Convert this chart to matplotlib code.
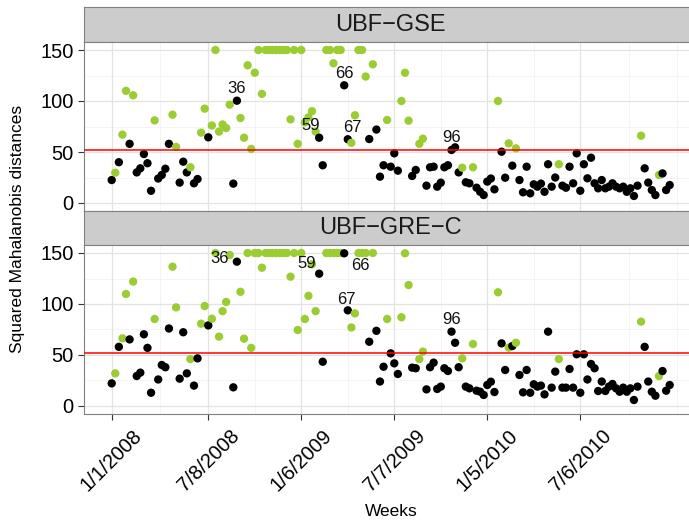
import numpy as np
import matplotlib
matplotlib.use("Agg")
import matplotlib.pyplot as plt

plt.rcParams["font.family"] = ["Liberation Sans", "DejaVu Sans"]

# weekly squared Mahalanobis distances, week 1 = 1/1/2008 (capped at 150)
gse = [22.5, 29.7, 40, 67, 110, 58, 105.6, 30, 34, 48,
       39, 12, 81, 24, 27.5, 33.6, 58, 86.6, 55, 20,
       40.5, 30, 35, 19.3, 23.5, 69, 92.5, 64.4, 76, 150,
       70, 77, 73.5, 96.4, 19, 100.3, 83.3, 64, 135, 53,
       127.7, 150, 107, 150, 150, 150, 150, 150, 150, 150,
       82, 150, 58, 150, 79, 84, 90, 70, 64, 37,
       150, 150, 137, 150, 150, 115.4, 62.5, 59, 86, 150,
       150, 124, 62.7, 136, 72, 25.8, 37, 81.4, 35.6, 48.7,
       31.7, 100, 127.7, 80.7, 26.5, 32.4, 58, 63, 17, 35,
       35.6, 16, 19.9, 35, 37, 52, 54.6, 30, 34.6, 20.3,
       19.3, 35, 15, 11, 7.8, 21, 24, 13.4, 100, 50.3,
       24.8, 58.5, 36.6, 53.6, 22.5, 10.5, 35.6, 9.5, 18.3, 16,
       19, 11, 38, 16, 25, 38, 17, 15, 35.6, 19.3,
       48.7, 12, 38, 24.2, 44.4, 19.3, 14.4, 22.5, 14.4, 16,
       19.3, 16, 14.4, 16, 11, 14.4, 6.9, 17, 66, 34,
       20, 12.7, 7.8, 27.5, 29, 12.7, 17.6]

gre_c = [22.2, 32, 58, 66.3, 109.8, 65.3, 122, 29.4, 32.7, 70.3,
         57, 13, 85.3, 26, 40.2, 38, 76, 136.6, 96.7, 26.8,
         72.3, 32, 46, 20, 46.7, 80.7, 98, 79, 85.6, 150,
         68, 93, 102, 148, 18.3, 141.5, 112, 66, 150, 57,
         150, 150, 135.6, 150, 150, 150, 150, 150, 150, 150,
         126.8, 150, 74.5, 150, 85.3, 108, 139, 93, 129.7, 43.4,
         150, 150, 150, 150, 150, 149.7, 93.8, 77, 90.8, 150,
         150, 150, 63, 150, 73.7, 24, 38.5, 85.3, 51.6, 41.8,
         31.4, 87, 149.7, 118.6, 37.6, 37, 46, 53.3, 16.3, 38,
         42.5, 16.7, 19, 37, 34.3, 72.9, 62, 38, 46.7, 19,
         17.3, 60.8, 15, 14, 10.8, 20.6, 23.8, 13.7, 111.5, 61.4,
         35.3, 57.2, 58.8, 62, 30.4, 13.4, 35.3, 13, 21.3, 19,
         20, 11.4, 72.9, 18, 33.7, 46, 18, 18, 36.3, 18,
         50.7, 13, 50.7, 26, 41.2, 37, 14.7, 24, 14.7, 19,
         21.6, 17.3, 14, 18, 14, 17.3, 5.9, 19, 82.7, 58,
         24, 14, 10.1, 29.4, 34.3, 15, 20.6]

# weeks (0-based) drawn in green
green_weeks = [1, 3, 4, 6, 12, 17, 18, 22, 25, 26, 28, 29, 30, 31, 32, 33,
               36, 37, 38, 39, 40, 41, 42, 43, 44, 45, 46, 47, 48, 49, 50,
               51, 52, 53, 54, 55, 56, 57, 60, 61, 62, 63, 64, 67, 68, 69,
               70, 71, 73, 77, 81, 82, 83, 86, 87, 98, 101, 108, 111, 113,
               125, 148, 153]

# labelled weeks (1-based) and label offsets in px per panel
label_weeks = [36, 59, 66, 67, 96]
label_offsets = {
    "UBF\u2212GSE": [(0, 12), (-8, 12), (0, 12), (5, 12), (0, 12)],
    "UBF\u2212GRE\u2212C": [(-17, 3), (-12, 10), (16, -12), (-1, 11), (0, 12)],
}

tick_weeks = [0, 27, 53, 79, 105, 131]
tick_labels = ["1/1/2008", "7/8/2008", "1/6/2009", "7/7/2009", "1/5/2010", "7/6/2010"]
threshold = 52

W, H = 689, 521
fig = plt.figure(figsize=(W / 100, H / 100), dpi=100)

x0, x1 = 83.8, 697.6
panels = [("UBF\u2212GSE", gse, 7.3, 42.35, 210.65),
          ("UBF\u2212GRE\u2212C", gre_c, 210.65, 245.35, 413.65)]

weeks = np.arange(len(gse))
colors = np.where(np.isin(weeks, green_weeks), "#9ACD32", "#000000")

major_x = tick_weeks
minor_x = [13.5, 40, 66, 92, 118, 144.5, 158]

for i, (name, vals, s_top, p_top, p_bot) in enumerate(panels):
    # strip
    sax = fig.add_axes([x0 / W, 1 - p_top / H, (x1 - x0) / W, (p_top - s_top) / H])
    sax.set_facecolor("#CCCCCC")
    sax.set_xticks([])
    sax.set_yticks([])
    for sp in sax.spines.values():
        sp.set_color("#808080")
        sp.set_linewidth(0.8)
    sax.text(0.5, 0.5, name, transform=sax.transAxes, ha="center", va="center",
             fontsize=17, color="#1A1A1A")

    ax = fig.add_axes([x0 / W, 1 - p_bot / H, (x1 - x0) / W, (p_bot - p_top) / H])
    ax.set_xlim(-7.8, 163.8)
    ax.set_ylim(-7.5, 157.5)
    for v in minor_x:
        ax.axvline(v, color="#F2F2F2", lw=0.6, zorder=0)
    for v in [25, 75, 125]:
        ax.axhline(v, color="#F2F2F2", lw=0.6, zorder=0)
    for v in major_x:
        ax.axvline(v, color="#E3E3E3", lw=0.9, zorder=0)
    for v in [0, 50, 100, 150]:
        ax.axhline(v, color="#E3E3E3", lw=0.9, zorder=0)

    ax.scatter(weeks, vals, c=colors, s=36, linewidths=0, zorder=2)
    ax.axhline(threshold, color="#FF0000", lw=1.1, zorder=3)

    for wk, (dx, dy) in zip(label_weeks, label_offsets[name]):
        ax.annotate(str(wk), (wk - 1, vals[wk - 1]), xytext=(dx * 0.72, dy * 0.72),
                    textcoords="offset points", ha="center", va="center",
                    fontsize=12, color="#111111", zorder=4)

    for sp in ax.spines.values():
        sp.set_color("#808080")
        sp.set_linewidth(0.8)
    ax.set_yticks([0, 50, 100, 150])
    ax.tick_params(axis="both", length=4, width=0.8, color="#333333",
                   labelsize=14.5, labelcolor="black")
    ax.tick_params(axis="y", pad=3.5)
    ax.set_xticks(tick_weeks)
    if i == 0:
        ax.tick_params(axis="x", labelbottom=False, length=0)
    else:
        ax.set_xticklabels(tick_labels, rotation=45, ha="center", va="top")
        ax.tick_params(axis="x", pad=5)

fig.text(18 / W, 1 - 228.5 / H, "Squared Mahalanobis distances", rotation=90,
         ha="center", va="center", fontsize=12.5)
fig.text(391 / W, 1 - 511 / H, "Weeks", ha="center", va="center", fontsize=12.5)

fig.savefig("out.png", dpi=100)
